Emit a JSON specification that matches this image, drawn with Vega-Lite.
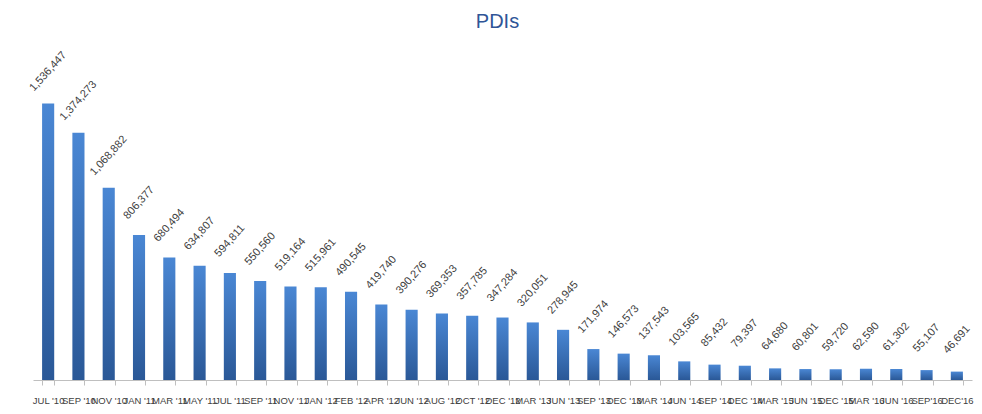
{
  "$schema": "https://vega.github.io/schema/vega-lite/v6.json",
  "autosize": {"type": "none"},
  "width": 939,
  "height": 340,
  "padding": {"left": 33, "top": 40, "right": 10, "bottom": 34},
  "background": "white",
  "title": {"text": "PDIs", "fontSize": 20, "font": "Liberation Sans", "fontWeight": "normal", "color": "#2F5597", "offset": 8, "anchor": "middle", "dx": -5},
  "data": {"values": [
    {"period": "JUL '10", "pdis": 1536447},
    {"period": "SEP '10", "pdis": 1374273},
    {"period": "NOV '10", "pdis": 1068882},
    {"period": "JAN '11", "pdis": 806377},
    {"period": "MAR '11", "pdis": 680494},
    {"period": "MAY '11", "pdis": 634807},
    {"period": "JUL '11", "pdis": 594811},
    {"period": "SEP '11", "pdis": 550560},
    {"period": "NOV '11", "pdis": 519164},
    {"period": "JAN '12", "pdis": 515961},
    {"period": "FEB '12", "pdis": 490545},
    {"period": "APR '12", "pdis": 419740},
    {"period": "JUN '12", "pdis": 390276},
    {"period": "AUG '12", "pdis": 369353},
    {"period": "OCT '12", "pdis": 357785},
    {"period": "DEC '12", "pdis": 347284},
    {"period": "MAR '13", "pdis": 320051},
    {"period": "JUN '13", "pdis": 278945},
    {"period": "SEP '13", "pdis": 171974},
    {"period": "DEC '13", "pdis": 146573},
    {"period": "MAR '14", "pdis": 137543},
    {"period": "JUN '14", "pdis": 103565},
    {"period": "SEP '14", "pdis": 85432},
    {"period": "DEC '14", "pdis": 79397},
    {"period": "MAR '15", "pdis": 64680},
    {"period": "JUN '15", "pdis": 60801},
    {"period": "DEC '15", "pdis": 59720},
    {"period": "MAR '16", "pdis": 62590},
    {"period": "JUN '16", "pdis": 61302},
    {"period": "SEP'16", "pdis": 55107},
    {"period": "DEC'16", "pdis": 46691}
  ]},
  "encoding": {
    "x": {
      "field": "period", "type": "nominal", "sort": null,
      "scale": {"paddingInner": 0.6, "paddingOuter": 0.3},
      "axis": {
        "title": null, "labelAngle": 0, "labelOverlap": false, "labelLimit": 0,
        "labelFontSize": 9.5, "labelColor": "#404040", "labelFont": "Liberation Sans",
        "tickBand": "extent", "tickColor": "#BFBFBF", "domainColor": "#BFBFBF",
        "tickSize": 5, "labelPadding": 10, "grid": false
      }
    },
    "y": {"field": "pdis", "type": "quantitative", "scale": {"domain": [0, 1890000]}, "axis": null}
  },
  "layer": [
    {"mark": {"type": "bar", "color": {"gradient": "linear", "x1": 0, "y1": 0, "x2": 0, "y2": 1, "stops": [{"offset": 0, "color": "#4A87D4"}, {"offset": 1, "color": "#2A5897"}]}}},
    {"mark": {"type": "text", "angle": -48, "align": "center", "baseline": "middle", "dx": 23.8, "dy": -21.4, "fontSize": 11, "color": "#404040", "font": "Liberation Sans"},
     "encoding": {"text": {"field": "pdis", "type": "quantitative", "format": ","}}}
  ],
  "config": {"view": {"stroke": null}}
}
